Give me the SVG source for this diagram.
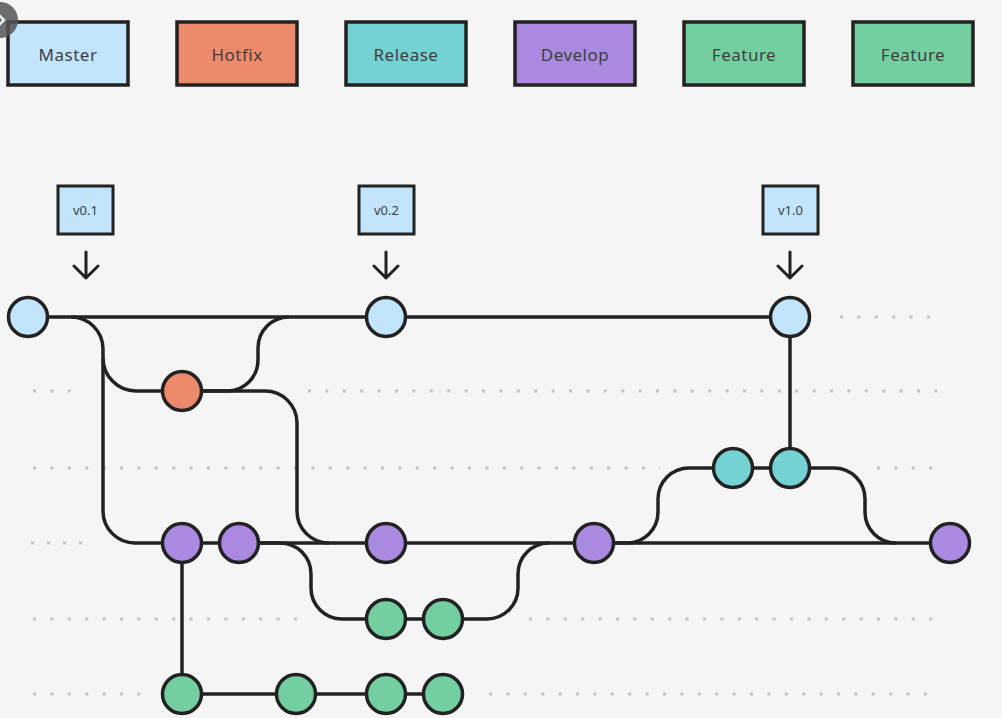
<svg xmlns="http://www.w3.org/2000/svg" width="1002" height="718" viewBox="0 0 1002 718">
<style>
.bg{fill:#f5f5f5}
.leg{stroke:#222;stroke-width:3.5}
.lt{font-family:"Noto Sans","DejaVu Sans",sans-serif;font-size:17px;fill:#3f3f3f;text-anchor:middle;letter-spacing:0.5px}
.tag{fill:#c2e5fb;stroke:#222;stroke-width:3}
.tt{font-family:"Noto Sans","DejaVu Sans",sans-serif;font-size:13px;fill:#3f3f3f;text-anchor:middle}
.dots{stroke:#c4c4c4;stroke-width:3;stroke-dasharray:3 14.4;fill:none}
.ln{fill:none;stroke:#222;stroke-width:3.5;stroke-linejoin:round}
.arr{fill:none;stroke:#222;stroke-width:3;stroke-linecap:round;stroke-linejoin:round}
.n{stroke:#222;stroke-width:3.5}
.master{fill:#c2e5fb}
.hotfix{fill:#ee8a6c}
.release{fill:#74d2d3}
.develop{fill:#a98ae0}
.feature{fill:#74cfa0}
</style>
<rect class="bg" x="0" y="0" width="1002" height="718"/>

<g id="legend">
  <g id="legend-master"><rect class="leg master" x="8" y="22" width="120" height="63"/><text class="lt" x="68" y="61">Master</text></g>
  <g id="legend-hotfix"><rect class="leg hotfix" x="177" y="22" width="120" height="63"/><text class="lt" x="237" y="61">Hotfix</text></g>
  <g id="legend-release"><rect class="leg release" x="346" y="22" width="120" height="63"/><text class="lt" x="406" y="61">Release</text></g>
  <g id="legend-develop"><rect class="leg develop" x="515" y="22" width="120" height="63"/><text class="lt" x="575" y="61">Develop</text></g>
  <g id="legend-feature1"><rect class="leg feature" x="684" y="22" width="120" height="63"/><text class="lt" x="744" y="61">Feature</text></g>
  <g id="legend-feature2"><rect class="leg feature" x="853" y="22" width="120" height="63"/><text class="lt" x="913" y="61">Feature</text></g>
</g>

<g id="close-button">
  <circle cx="0" cy="20" r="18" fill="#555" fill-opacity="0.85"/>
  <path d="M-2,14 L4,20 L-2,26" fill="none" stroke="#eee" stroke-width="2.5"/>
</g>

<g id="lanes">
  <line class="dots" x1="840" y1="317" x2="940" y2="317"/>
  <line class="dots" x1="33" y1="391" x2="75" y2="391"/>
  <line class="dots" x1="308" y1="391" x2="940" y2="391"/>
  <line class="dots" x1="33" y1="468" x2="660" y2="468"/>
  <line class="dots" x1="877" y1="468" x2="940" y2="468"/>
  <line class="dots" x1="31" y1="543" x2="85" y2="543" style="stroke-dasharray:3 13"/>
  <line class="dots" x1="33" y1="619" x2="308" y2="619"/>
  <line class="dots" x1="529" y1="619" x2="940" y2="619"/>
  <line class="dots" x1="33" y1="694" x2="140" y2="694"/>
  <line class="dots" x1="489" y1="694" x2="940" y2="694"/>
</g>

<g id="connectors">
  <path class="ln" d="M28,317 H790"/>
  <path class="ln" d="M71,317 A32,32 0 0 1 103,349 V511 A32,32 0 0 0 135,543 H950"/>
  <path class="ln" d="M103,358 A33,33 0 0 0 136,391 H182"/>
  <path class="ln" d="M182,391 H227 A31,31 0 0 0 258,360 V348 A31,31 0 0 1 289,317"/>
  <path class="ln" d="M202,391 H265 A32,32 0 0 1 297,423 V511 A32,32 0 0 0 329,543"/>
  <path class="ln" d="M239,543 H280 A31,31 0 0 1 311,574 V588 A31,31 0 0 0 342,619 H443"/>
  <path class="ln" d="M443,619 H487 A31,31 0 0 0 518,588 V574 A31,31 0 0 1 549,543"/>
  <path class="ln" d="M182,543 V694 H443"/>
  <path class="ln" d="M594,543 H627 A31,31 0 0 0 658,512 V499 A31,31 0 0 1 689,468 H790"/>
  <path class="ln" d="M790,468 H834 A31,31 0 0 1 865,499 V512 A31,31 0 0 0 896,543"/>
  <path class="ln" d="M790,317 V468"/>
  <path class="arr" d="M86,252 V277 M74,266 L86,278 L98,266"/>
  <path class="arr" d="M386,252 V277 M374,266 L386,278 L398,266"/>
  <path class="arr" d="M790,252 V277 M778,266 L790,278 L802,266"/>
</g>

<g id="tags">
  <g id="tag-v01"><rect class="tag" x="58" y="186" width="55" height="48"/><text class="tt" x="85.5" y="215">v0.1</text></g>
  <g id="tag-v02"><rect class="tag" x="359" y="186" width="55" height="48"/><text class="tt" x="386.5" y="215">v0.2</text></g>
  <g id="tag-v10"><rect class="tag" x="763" y="186" width="55" height="48"/><text class="tt" x="790.5" y="215">v1.0</text></g>
</g>

<g id="nodes">
  <circle id="m1" class="n master" cx="28" cy="317" r="19.5"/>
  <circle id="m2" class="n master" cx="386" cy="317" r="19.5"/>
  <circle id="m3" class="n master" cx="790" cy="317" r="19.5"/>
  <circle id="h1" class="n hotfix" cx="182" cy="391" r="19.5"/>
  <circle id="r1" class="n release" cx="733" cy="468" r="19.5"/>
  <circle id="r2" class="n release" cx="790" cy="468" r="19.5"/>
  <circle id="d1" class="n develop" cx="182" cy="543" r="19.5"/>
  <circle id="d2" class="n develop" cx="239" cy="543" r="19.5"/>
  <circle id="d3" class="n develop" cx="386" cy="543" r="19.5"/>
  <circle id="d4" class="n develop" cx="594" cy="543" r="19.5"/>
  <circle id="d5" class="n develop" cx="950" cy="543" r="19.5"/>
  <circle id="f1a" class="n feature" cx="386" cy="619" r="19.5"/>
  <circle id="f1b" class="n feature" cx="443" cy="619" r="19.5"/>
  <circle id="f2a" class="n feature" cx="182" cy="694" r="19.5"/>
  <circle id="f2b" class="n feature" cx="296" cy="694" r="19.5"/>
  <circle id="f2c" class="n feature" cx="386" cy="694" r="19.5"/>
  <circle id="f2d" class="n feature" cx="443" cy="694" r="19.5"/>
</g>
</svg>
